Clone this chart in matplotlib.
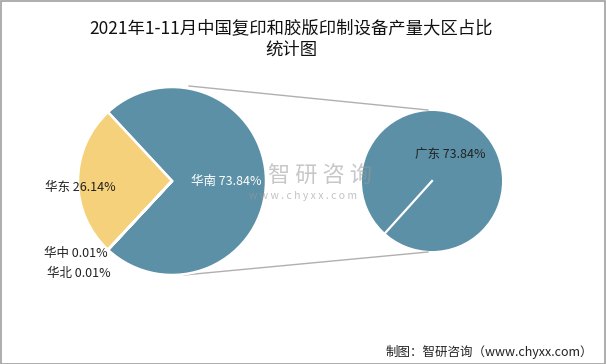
import numpy as np
import matplotlib
matplotlib.use("Agg")
import matplotlib.pyplot as plt
from matplotlib.patches import Rectangle

plt.rcParams['font.family'] = ['Noto Sans CJK SC', 'DejaVu Sans']

# Data
regions = ['华南', '华东', '华中', '华北']
region_share = [73.84, 26.14, 0.01, 0.01]
sub_labels = ['广东']
sub_share = [73.84]
title = '2021年1-11月中国复印和胶版印制设备产量大区占比\n统计图'
source = '制图：智研咨询（www.chyxx.com）'

BLUE = '#5B90A6'
YELLOW = '#F6D17B'
colors = [BLUE, YELLOW, BLUE, BLUE]

W, H = 606, 364
fig = plt.figure(figsize=(W / 100, H / 100), dpi=100)
ax = fig.add_axes([0, 0, 1, 1])
ax.set_xlim(0, W)
ax.set_ylim(0, H)
ax.set_aspect('equal')
ax.axis('off')

def Y(y):
    return H - y

# main pie
c1 = (172, Y(181)); r1 = 94
start = -region_share[0] * 3.6 / 2
ax.pie(region_share, colors=colors, startangle=start, counterclock=True,
       center=c1, radius=r1, frame=True,
       wedgeprops=dict(edgecolor='white', linewidth=1.8))

# second pie
c2 = (432, Y(181)); r2 = 70
ax.pie(sub_share, colors=[BLUE], startangle=228, counterclock=True,
       center=c2, radius=r2, frame=True,
       wedgeprops=dict(edgecolor='none'))
ang = np.deg2rad(228)
ax.plot([c2[0], c2[0] + r2 * np.cos(ang)], [c2[1], c2[1] + r2 * np.sin(ang)],
        color='white', lw=1.6, zorder=5)

# connector lines
ax.plot([189, 428], [Y(86), Y(110)], color='#b0b0b0', lw=1, zorder=0)
ax.plot([184, 428], [Y(275), Y(252)], color='#b0b0b0', lw=1, zorder=0)

ax.set_xlim(0, W)
ax.set_ylim(0, H)
ax.axis('off')

# watermark
ax.text(320, Y(176), '智 研 咨 询', fontsize=16, color='#9a9a9a', alpha=0.55,
        ha='center', va='center', zorder=6)
ax.text(303, Y(196), 'w w w . c h y x x . c o m', fontsize=7.5, color='#9a9a9a',
        alpha=0.6, ha='center', va='center', zorder=6)

# labels
def lab(s, v):
    return f'{s} {v:.2f}%'
ax.text(226, Y(181), lab(regions[0], region_share[0]), fontsize=9, color='white',
        ha='center', va='center', zorder=7)
ax.text(80, Y(187), lab(regions[1], region_share[1]), fontsize=9, color='#222222',
        ha='center', va='center', zorder=7)
ax.text(76, Y(254), lab(regions[2], region_share[2]), fontsize=9, color='#222222',
        ha='center', va='center', zorder=7)
ax.text(79, Y(273), lab(regions[3], region_share[3]), fontsize=9, color='#222222',
        ha='center', va='center', zorder=7)
ax.text(450, Y(154), lab(sub_labels[0], sub_share[0]), fontsize=9, color='#222222',
        ha='center', va='center', zorder=7)

# title
ax.text(291, Y(39), title, fontsize=12.5, color='#111111', ha='center', va='center',
        linespacing=1.25)

# source
ax.text(593, Y(352), source, fontsize=9, color='#222222', ha='right', va='center')

# border
fig.patches.append(Rectangle((0.5 / W, 0.5 / H), 1 - 1.5 / W, 1 - 1.5 / H,
                             transform=fig.transFigure, fill=False,
                             edgecolor='#a0a0a0', linewidth=1.2))

fig.savefig('out.png', dpi=100)
